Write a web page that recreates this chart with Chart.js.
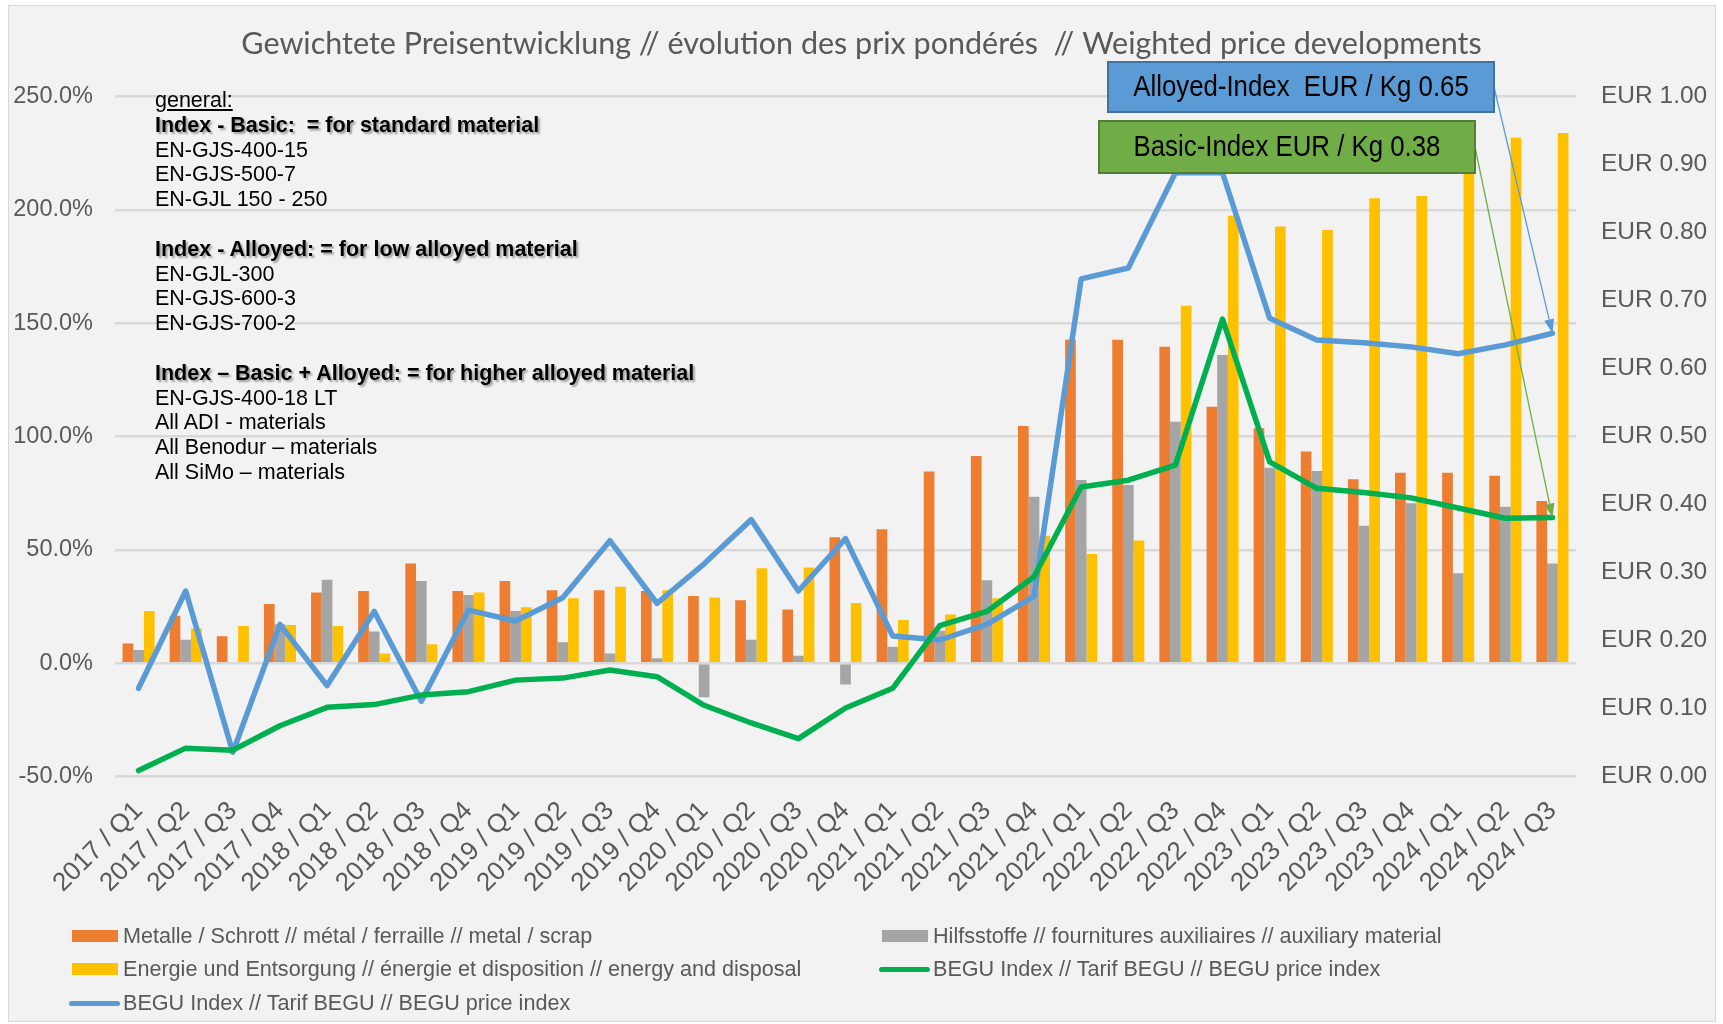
<!DOCTYPE html>
<html>
<head>
<meta charset="utf-8">
<title>Gewichtete Preisentwicklung</title>
<script src="https://cdn.jsdelivr.net/npm/chart.js@4.4.1/dist/chart.umd.min.js"></script>
<style>
  html, body { margin: 0; padding: 0; background: #fff; }
  body { width: 1723px; height: 1024px; position: relative; overflow: hidden;
         font-family: 'Liberation Sans', Arial, sans-serif; }
  #panel { position: absolute; left: 8px; top: 5px; width: 1706px; height: 1015px;
           background: #f2f2f2; border: 1px solid #d9d9d9; }
  #wrap { position: absolute; left: 0; top: 0; width: 1723px; height: 1024px; }
  #notes { position: absolute; left: 155px; top: 88px; font-size: 21.5px; line-height: 24.8px; color: #000; }
  #notes b { text-shadow: 2px 2px 2px rgba(0,0,0,0.35); }
  #notes u { text-decoration: underline; }
  .lg { position: absolute; height: 24px; line-height: 24px; font-size: 21.6px; color: #595959; white-space: nowrap; }
  .lg i { position: absolute; top: 50%; }
</style>
</head>
<body>
<div id="panel"></div>
<div id="wrap"><canvas id="chart" width="1723" height="1024"></canvas></div>
<div id="notes">
  <u>general:</u><br>
  <b>Index - Basic:&nbsp; = for standard material</b><br>
  EN-GJS-400-15<br>
  EN-GJS-500-7<br>
  EN-GJL 150 - 250<br>
  <br>
  <b>Index - Alloyed: = for low alloyed material</b><br>
  EN-GJL-300<br>
  EN-GJS-600-3<br>
  EN-GJS-700-2<br>
  <br>
  <b>Index – Basic + Alloyed: = for higher alloyed material</b><br>
  EN-GJS-400-18 LT<br>
  All ADI - materials<br>
  All Benodur – materials<br>
  All SiMo – materials
</div>
<div id="legend"></div>
<script>
// ── DATA ────────────────────────────────────────────────────────────────
const CATEGORIES = [
  '2017 / Q1', '2017 / Q2', '2017 / Q3', '2017 / Q4',
  '2018 / Q1', '2018 / Q2', '2018 / Q3', '2018 / Q4',
  '2019 / Q1', '2019 / Q2', '2019 / Q3', '2019 / Q4',
  '2020 / Q1', '2020 / Q2', '2020 / Q3', '2020 / Q4',
  '2021 / Q1', '2021 / Q2', '2021 / Q3', '2021 / Q4',
  '2022 / Q1', '2022 / Q2', '2022 / Q3', '2022 / Q4',
  '2023 / Q1', '2023 / Q2', '2023 / Q3', '2023 / Q4',
  '2024 / Q1', '2024 / Q2', '2024 / Q3'
];

// bars, left axis (%)
const METAL = [8.8, 21, 12, 26.2, 31.3, 31.9, 44.1, 31.9, 36.3, 32.3, 32.3, 31.9, 29.7, 27.8, 23.7, 55.6,
               59.1, 84.6, 91.5, 104.7, 142.7, 142.7, 139.7, 113.2, 103.7, 93.4, 81.2, 84.1, 84.1, 82.7, 71.6];
const AUXILIARY = [5.9, 10.4, 0, 17.3, 36.9, 14, 36.3, 30.1, 23.1, 9.3, 4.3, 2.2, -15, 10.4, 3.4, -9.3,
                   7.3, 14.4, 36.7, 73.5, 80.9, 78.7, 106.6, 136, 86.3, 84.9, 60.7, 70.6, 39.7, 69.1, 44.1];
const ENERGY = [23.1, 15.4, 16.5, 16.9, 16.5, 4.3, 8.4, 31.3, 24.7, 28.7, 33.8, 32.3, 29.1, 41.9, 42.3, 26.6,
                19.1, 21.6, 28.7, 56.3, 48.2, 54.2, 157.7, 197.4, 192.7, 191.2, 205.2, 206.2, 219, 231.9, 233.9];

// lines, right axis (EUR / Kg)
const BASIC_INDEX = [0.009, 0.042, 0.039, 0.075, 0.102, 0.106, 0.120, 0.125, 0.142, 0.145, 0.157, 0.147,
                     0.105, 0.079, 0.056, 0.101, 0.130, 0.222, 0.243, 0.294, 0.426, 0.436, 0.458, 0.673,
                     0.463, 0.424, 0.418, 0.410, 0.395, 0.380, 0.381];
const ALLOYED_INDEX = [0.130, 0.273, 0.036, 0.224, 0.134, 0.243, 0.111, 0.245, 0.229, 0.263, 0.347, 0.255,
                       0.313, 0.378, 0.273, 0.350, 0.207, 0.201, 0.224, 0.265, 0.732, 0.748, 0.888, 0.888,
                       0.674, 0.642, 0.638, 0.632, 0.622, 0.635, 0.652];

const LEFT_TICKS = { min: -50, max: 250, step: 50 };
const RIGHT_TICKS = { min: 0, max: 1, step: 0.1 };

const COLORS = {
  metal: '#ED7D31', aux: '#A5A5A5', energy: '#FFC000',
  basic: '#00B050', alloyed: '#5B9BD5', text: '#595959', grid: '#D9D9D9'
};

// ── CALLOUT BOXES (top right) ───────────────────────────────────────────
const CALLOUTS = [
  { label: 'Alloyed-Index  EUR / Kg ', series: ALLOYED_INDEX, fill: '#5B9BD5', stroke: '#41719C',
    arrow: '#5B9BD5', box: { x: 1108, y: 62, w: 386, h: 50 } },
  { label: 'Basic-Index EUR / Kg ', series: BASIC_INDEX, fill: '#70AD47', stroke: '#507E32',
    arrow: '#70AD47', box: { x: 1099, y: 121, w: 376, h: 52 } }
];

const calloutPlugin = {
  id: 'callouts',
  afterDatasetsDraw(chart) {
    const { ctx } = chart;
    const xs = chart.scales.x, yR = chart.scales.yR;
    const last = CATEGORIES.length - 1;
    ctx.save();
    CALLOUTS.forEach(c => {
      const b = c.box;
      const tx = xs.getPixelForValue(last);
      const ty = yR.getPixelForValue(c.series[last]);
      const sx = b.x + b.w, sy = b.y + b.h / 2;

      // arrow line + head
      const ang = Math.atan2(ty - sy, tx - sx);
      const head = 14;
      ctx.strokeStyle = c.arrow;
      ctx.lineWidth = 1.3;
      ctx.beginPath();
      ctx.moveTo(sx, sy);
      ctx.lineTo(tx - Math.cos(ang) * head, ty - Math.sin(ang) * head);
      ctx.stroke();
      ctx.fillStyle = c.arrow;
      ctx.beginPath();
      ctx.moveTo(tx, ty);
      ctx.lineTo(tx - head * Math.cos(ang) + 5 * Math.sin(ang), ty - head * Math.sin(ang) - 5 * Math.cos(ang));
      ctx.lineTo(tx - head * Math.cos(ang) - 5 * Math.sin(ang), ty - head * Math.sin(ang) + 5 * Math.cos(ang));
      ctx.closePath();
      ctx.fill();

      // box
      ctx.fillStyle = c.fill;
      ctx.fillRect(b.x, b.y, b.w, b.h);
      ctx.strokeStyle = c.stroke;
      ctx.lineWidth = 2;
      ctx.strokeRect(b.x, b.y, b.w, b.h);

      // condensed text (squeezed horizontally like the original)
      ctx.save();
      ctx.translate(b.x + b.w / 2, b.y + b.h / 2 + 1);
      ctx.scale(0.86, 1);
      ctx.fillStyle = '#000';
      ctx.font = "30px 'Liberation Sans', Arial, sans-serif";
      ctx.textAlign = 'center';
      ctx.textBaseline = 'middle';
      ctx.fillText(c.label + c.series[last].toFixed(2), 0, 0);
      ctx.restore();
    });
    ctx.restore();
  }
};

// ── CHART ───────────────────────────────────────────────────────────────
Chart.defaults.font.family = "'Liberation Sans', Arial, sans-serif";
Chart.defaults.color = COLORS.text;

function barSet(label, data, color) {
  return { type: 'bar', label, data, backgroundColor: color, yAxisID: 'y', order: 3,
           categoryPercentage: 0.68, barPercentage: 1.0 };
}
function lineSet(label, data, color, order) {
  return { type: 'line', label, data, borderColor: color, backgroundColor: color, yAxisID: 'yR', order,
           borderWidth: 5.5, pointRadius: 0, tension: 0, borderJoinStyle: 'round', borderCapStyle: 'round' };
}

const chart = new Chart(document.getElementById('chart'), {
  type: 'bar',
  data: {
    labels: CATEGORIES,
    datasets: [
      barSet('Metalle / Schrott // métal / ferraille // metal / scrap', METAL, COLORS.metal),
      barSet('Hilfsstoffe // fournitures auxiliaires // auxiliary material', AUXILIARY, COLORS.aux),
      barSet('Energie und Entsorgung // énergie et disposition // energy and disposal', ENERGY, COLORS.energy),
      lineSet('BEGU Index // Tarif BEGU // BEGU price index', BASIC_INDEX, COLORS.basic, 1),
      lineSet('BEGU Index // Tarif BEGU // BEGU price index', ALLOYED_INDEX, COLORS.alloyed, 2)
    ]
  },
  options: {
    responsive: false,
    animation: false,
    layout: { padding: 0 },
    scales: {
      x: {
        grid: { display: false },
        border: { display: false },
        ticks: { autoSkip: false, minRotation: 45, maxRotation: 45, padding: 11,
                 font: { size: 26 }, color: COLORS.text },
        afterFit: s => { s.height = 247.3; }
      },
      y: {
        position: 'left',
        min: LEFT_TICKS.min, max: LEFT_TICKS.max,
        grid: { color: COLORS.grid, lineWidth: 2.5, drawTicks: false },
        border: { display: false },
        ticks: { stepSize: LEFT_TICKS.step, padding: 22, font: { size: 23.5 }, color: COLORS.text,
                 callback: v => v.toFixed(1) + '%' },
        afterFit: s => { s.width = 115; }
      },
      yR: {
        position: 'right',
        min: RIGHT_TICKS.min, max: RIGHT_TICKS.max,
        grid: { display: false, drawTicks: false },
        border: { display: false },
        ticks: { stepSize: RIGHT_TICKS.step, padding: 25, font: { size: 24.5 }, color: COLORS.text,
                 callback: v => 'EUR ' + v.toFixed(2) },
        afterFit: s => { s.width = 147; }
      }
    },
    plugins: {
      legend: { display: false },
      tooltip: { enabled: false },
      title: {
        display: true,
        text: 'Gewichtete Preisentwicklung // évolution des prix pondérés  // Weighted price developments',
        color: COLORS.text,
        font: { family: 'Lato', size: 30.5, weight: 'normal' },
        padding: { top: 26, bottom: 34 }
      }
    }
  },
  plugins: [calloutPlugin]
});

// ── HTML LEGEND (two columns) ──────────────────────────────────────────
const LEGEND_SLOTS = [
  { col: 0, row: 0 }, { col: 1, row: 0 }, { col: 0, row: 1 }, { col: 1, row: 1 }, { col: 0, row: 2 }
];
const COL_X = [72, 882], ROW_Y = [936, 969, 1003];
const legendEl = document.getElementById('legend');
chart.data.datasets.forEach((ds, i) => {
  const slot = LEGEND_SLOTS[i];
  const item = document.createElement('div');
  item.className = 'lg';
  item.style.left = COL_X[slot.col] + 'px';
  item.style.top = (ROW_Y[slot.row] - 12) + 'px';
  item.style.paddingLeft = '51px';
  const sw = document.createElement('i');
  if (ds.type === 'bar') {
    Object.assign(sw.style, { left: '0px', width: '46px', height: '12px', marginTop: '-6px', background: ds.backgroundColor });
  } else {
    Object.assign(sw.style, { left: '-3px', width: '51px', height: '5px', marginTop: '-2.5px',
                              background: ds.borderColor, borderRadius: '3px' });
  }
  item.appendChild(sw);
  item.appendChild(document.createTextNode(ds.label));
  legendEl.appendChild(item);
});
</script>
</body>
</html>
